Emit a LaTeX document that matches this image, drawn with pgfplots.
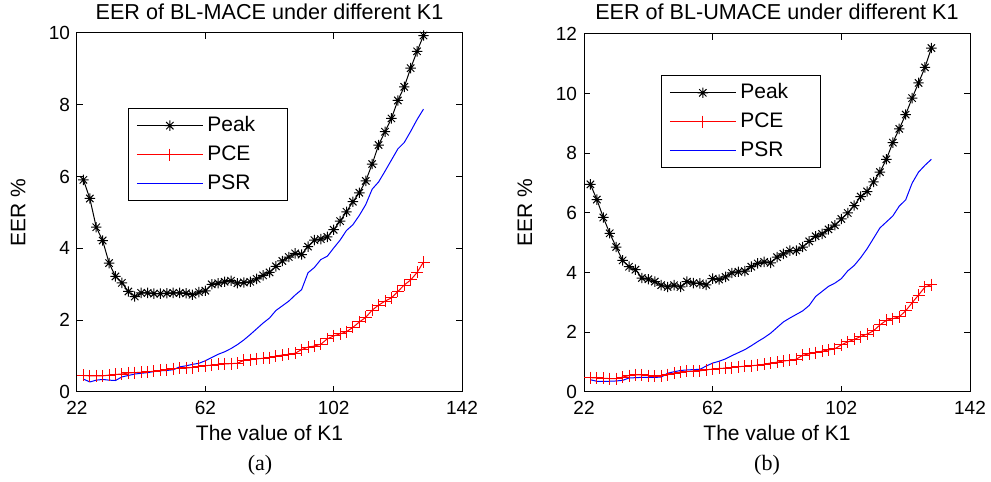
\documentclass[border=0pt]{standalone}
\usepackage{fontspec}
\setmainfont{Liberation Sans}
\newfontfamily\timesfont{Liberation Serif}
\usepackage{pgfplots}
\usepackage{pgfplotstable}
\pgfplotsset{compat=1.18}

\pgfdeclareplotmark{matast}{%
  \pgfpathmoveto{\pgfqpoint{-\pgfplotmarksize}{0pt}}%
  \pgfpathlineto{\pgfqpoint{\pgfplotmarksize}{0pt}}%
  \pgfpathmoveto{\pgfqpoint{0pt}{-\pgfplotmarksize}}%
  \pgfpathlineto{\pgfqpoint{0pt}{\pgfplotmarksize}}%
  \pgfpathmoveto{\pgfqpoint{-0.707\pgfplotmarksize}{-0.707\pgfplotmarksize}}%
  \pgfpathlineto{\pgfqpoint{0.707\pgfplotmarksize}{0.707\pgfplotmarksize}}%
  \pgfpathmoveto{\pgfqpoint{-0.707\pgfplotmarksize}{0.707\pgfplotmarksize}}%
  \pgfpathlineto{\pgfqpoint{0.707\pgfplotmarksize}{-0.707\pgfplotmarksize}}%
  \pgfusepathqstroke}

\pgfplotstableread{
K peak pce psr
24 5.91 0.46 0.36
26 5.39 0.45 0.28
28 4.59 0.45 0.33
30 4.22 0.45 0.35
32 3.59 0.47 0.33
34 3.22 0.49 0.32
36 3.04 0.50 0.42
38 2.80 0.53 0.46
40 2.66 0.54 0.50
42 2.76 0.55 0.52
44 2.76 0.56 0.54
46 2.74 0.58 0.57
48 2.74 0.60 0.59
50 2.75 0.62 0.60
52 2.76 0.65 0.62
54 2.76 0.66 0.70
56 2.75 0.67 0.73
58 2.71 0.68 0.77
60 2.78 0.72 0.80
62 2.82 0.73 0.87
64 3.00 0.75 0.96
66 3.03 0.77 1.05
68 3.07 0.78 1.12
70 3.10 0.79 1.21
72 3.03 0.80 1.32
74 3.05 0.88 1.45
76 3.07 0.90 1.60
78 3.15 0.92 1.76
80 3.25 0.94 1.92
82 3.33 0.96 2.06
84 3.50 1.00 2.27
86 3.65 1.03 2.40
88 3.76 1.05 2.53
90 3.86 1.08 2.70
92 3.83 1.18 2.85
94 4.05 1.25 3.32
96 4.23 1.28 3.47
98 4.26 1.33 3.69
100 4.32 1.48 3.78
102 4.52 1.56 4.01
104 4.76 1.62 4.23
106 5.02 1.68 4.50
108 5.30 1.80 4.66
110 5.55 1.95 4.92
112 5.88 2.08 5.22
114 6.35 2.28 5.65
116 6.88 2.42 5.85
118 7.25 2.53 6.15
120 7.62 2.62 6.46
122 8.12 2.80 6.77
124 8.50 2.98 6.95
126 9.02 3.12 7.26
128 9.49 3.33 7.59
130 9.93 3.62 7.88
}\tabA

\pgfplotstableread{
K peak pce psr
24 6.96 0.48 0.41
26 6.45 0.47 0.36
28 5.85 0.46 0.36
30 5.32 0.45 0.36
32 4.86 0.45 0.37
34 4.41 0.50 0.39
36 4.20 0.55 0.47
38 4.10 0.57 0.48
40 3.82 0.57 0.49
42 3.78 0.55 0.49
44 3.70 0.53 0.49
46 3.58 0.54 0.50
48 3.52 0.58 0.63
50 3.58 0.63 0.68
52 3.52 0.67 0.72
54 3.70 0.69 0.74
56 3.65 0.70 0.75
58 3.64 0.71 0.76
60 3.59 0.74 0.87
62 3.80 0.77 0.97
64 3.77 0.79 1.03
66 3.86 0.80 1.11
68 3.99 0.82 1.22
70 4.03 0.85 1.32
72 4.05 0.86 1.42
74 4.20 0.88 1.55
76 4.31 0.90 1.69
78 4.36 0.93 1.82
80 4.33 0.97 1.97
82 4.52 1.00 2.16
84 4.63 1.04 2.35
86 4.74 1.06 2.48
88 4.74 1.10 2.60
90 4.86 1.23 2.72
92 5.05 1.28 2.90
94 5.22 1.32 3.20
96 5.30 1.37 3.37
98 5.45 1.41 3.54
100 5.59 1.45 3.65
102 5.80 1.58 3.80
104 6.00 1.68 4.06
106 6.25 1.76 4.24
108 6.55 1.86 4.50
110 6.72 1.94 4.80
112 7.04 2.05 5.15
114 7.37 2.25 5.50
116 7.80 2.40 5.70
118 8.36 2.46 5.90
120 8.82 2.52 6.23
122 9.30 2.72 6.44
124 9.85 2.99 7.00
126 10.36 3.25 7.37
128 10.88 3.52 7.60
130 11.53 3.60 7.80
}\tabB

\pgfplotsset{
  matstyle/.style={
    scale only axis,
    xmin=22, xmax=142, xtick={22,62,102,142},
    ymin=0,
    tick align=inside,
    major tick length=3pt,
    axis line style={line width=0.5pt},
    every tick/.style={black, line width=0.5pt},
    /pgf/number format/assume math mode=true,
    ticklabel style={font=\fontsize{9.5}{11}\selectfont},
    xticklabel style={yshift=-1pt},
    xlabel={The value of K1},
    ylabel={EER \%},
    label style={font=\fontsize{10.5}{12}\selectfont},
    xlabel style={at={(axis description cs:0.5,-0.114)}, anchor=center},
    ylabel style={at={(axis description cs:-0.153,0.5)}, anchor=center},
    title style={font=\fontsize{10.8}{13}\selectfont, anchor=center, yshift=-6pt},
    every axis plot/.append style={line width=0.5pt},
    legend cell align=left,
    legend style={draw=black, line width=0.5pt, font=\fontsize{10.5}{12}\selectfont,
      anchor=north west, row sep=1.5pt, inner xsep=4pt, inner ysep=2pt,
      nodes={text width=34pt}},
    legend image code/.code={%
      \draw[mark repeat=2,mark phase=2] plot coordinates {(0pt,0pt) (16.5pt,0pt) (33pt,0pt)};},
  },
  peak/.style={black, mark=matast, mark size=2.6pt, mark options={solid}},
  pce/.style={red, mark=+, mark size=3pt},
  psr/.style={blue, no marks},
}

\begin{document}
\begin{tikzpicture}
\useasboundingbox (0,0) rectangle (495.5pt,241pt);
\begin{axis}[matstyle,
  at={(38.5pt,45pt)}, anchor=south west,
  width=192.5pt, height=179.5pt,
  ymax=10, ytick={0,2,4,6,8,10},
  title={EER of BL-MACE under different K1},
  title style={at={(axis description cs:0.5,1.0585)}},
  legend style={at={(0.132,0.791)}},
]
\addplot[peak] table[x=K,y=peak] {\tabA};
\addplot[pce] table[x=K,y=pce] {\tabA};
\addplot[psr] table[x=K,y=psr] {\tabA};
\legend{Peak,PCE,PSR}
\end{axis}
\begin{axis}[matstyle,
  at={(292pt,45pt)}, anchor=south west,
  width=193pt, height=179pt,
  ymax=12, ytick={0,2,4,6,8,10,12},
  title={EER of BL-UMACE under different K1},
  title style={at={(axis description cs:0.5,1.0615)}},
  legend style={at={(0.199,0.885)}},
]
\addplot[peak] table[x=K,y=peak] {\tabB};
\addplot[pce] table[x=K,y=pce] {\tabB};
\addplot[psr] table[x=K,y=psr] {\tabB};
\legend{Peak,PCE,PSR}
\end{axis}
\node[font=\timesfont\fontsize{11}{13}\selectfont] at (130pt,8.5pt) {(a)};
\node[font=\timesfont\fontsize{11}{13}\selectfont] at (383.5pt,8.5pt) {(b)};
\end{tikzpicture}
\end{document}
